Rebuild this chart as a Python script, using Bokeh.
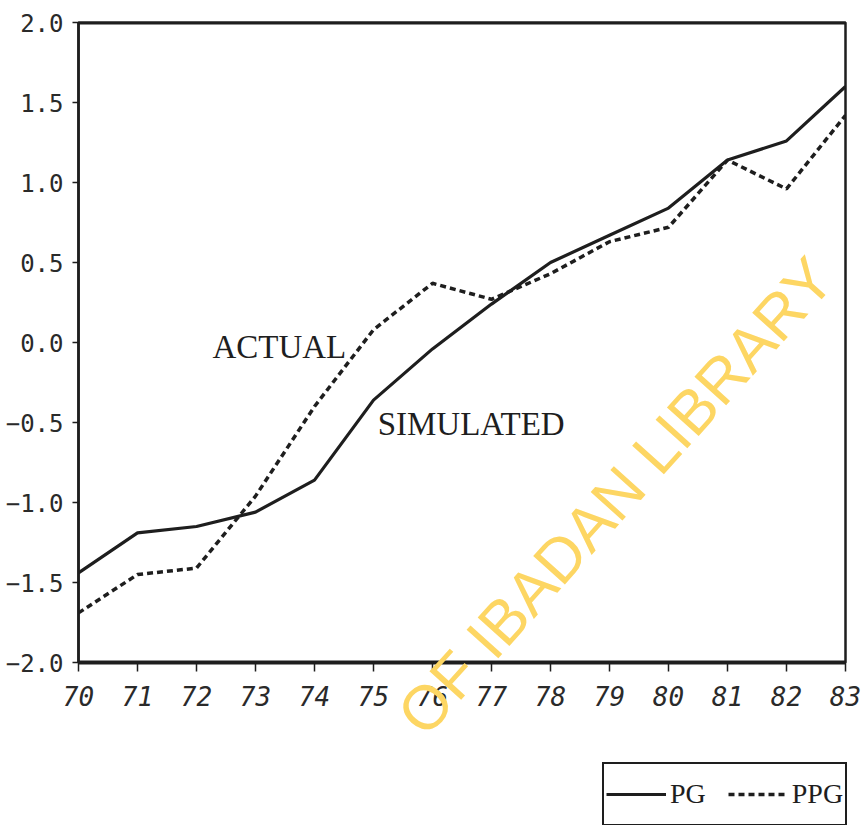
from bokeh.plotting import figure
from bokeh.layouts import column, row
from bokeh.models import Range1d, FixedTicker, Label, Legend, LegendItem, Span, Spacer
from bokeh.core.properties import value
from bokeh.embed import file_html
from bokeh.resources import INLINE

# Years (19xx) and the two money-supply series
years = [70, 71, 72, 73, 74, 75, 76, 77, 78, 79, 80, 81, 82, 83]
pg = [-1.44, -1.19, -1.15, -1.06, -0.86, -0.36, -0.04, 0.24, 0.50, 0.67, 0.84, 1.14, 1.26, 1.60]
ppg = [-1.69, -1.45, -1.41, -0.96, -0.40, 0.08, 0.37, 0.27, 0.43, 0.63, 0.72, 1.14, 0.96, 1.42]

x_ticks = years
x_tick_labels = [str(y) for y in years]
y_ticks = [-2.0, -1.5, -1.0, -0.5, 0.0, 0.5, 1.0, 1.5, 2.0]
y_tick_labels = ["\u22122.0", "\u22121.5", "\u22121.0", "\u22120.5", "0.0", "0.5", "1.0", "1.5", "2.0"]

INK = "#1e1e1e"
TICK_FONT = "DejaVu Sans Mono"
PG_STYLE = dict(line_color=INK, line_width=3.2)
PPG_STYLE = dict(line_color=INK, line_width=3.5, line_dash="6 4")

p = figure(
    width=862, height=760,
    x_range=Range1d(70, 83), y_range=Range1d(-2, 2),
    output_backend="svg", toolbar_location=None,
    min_border_left=78, min_border_right=17,
    min_border_top=22, min_border_bottom=98,
    background_fill_color="white", border_fill_color="white",
)

p.line(years, pg, **PG_STYLE)
p.line(years, ppg, **PPG_STYLE)

# axes
p.xgrid.visible = False
p.ygrid.visible = False
p.outline_line_color = INK
p.outline_line_width = 2.5

p.xaxis.ticker = FixedTicker(ticks=x_ticks)
p.xaxis.major_label_overrides = {t: l for t, l in zip(x_ticks, x_tick_labels)}
p.xaxis.axis_line_width = 4
p.xaxis.axis_line_color = INK
p.xaxis.major_tick_in = 0
p.xaxis.major_tick_out = 9
p.xaxis.major_tick_line_width = 1.5
p.xaxis.major_tick_line_color = INK
p.xaxis.minor_tick_line_color = None
p.xaxis.major_label_standoff = 14
p.xaxis.major_label_text_font = TICK_FONT
p.xaxis.major_label_text_font_style = "italic"
p.xaxis.major_label_text_font_size = "26px"
p.xaxis.major_label_text_color = "#2a2a2a"

p.yaxis.ticker = FixedTicker(ticks=y_ticks)
p.yaxis.major_label_overrides = {t: l for t, l in zip(y_ticks, y_tick_labels)}
p.yaxis.axis_line_width = 2.5
p.yaxis.axis_line_color = INK
p.yaxis.major_tick_in = 0
p.yaxis.major_tick_out = 6
p.yaxis.major_tick_line_width = 1.5
p.yaxis.major_tick_line_color = INK
p.yaxis.minor_tick_line_color = None
p.yaxis.major_label_standoff = 9
p.yaxis.major_label_text_font = TICK_FONT
p.yaxis.major_label_text_font_size = "24px"
p.yaxis.major_label_text_color = "#2a2a2a"

# heavier top rule of the frame
p.add_layout(Span(location=2.0, dimension="width", line_color=INK, line_width=4))

# series captions
p.add_layout(Label(x=72.27, y=-0.03, text="ACTUAL", text_font="Liberation Serif",
                   text_font_size="33px", text_color=INK, text_baseline="alphabetic"))
p.add_layout(Label(x=75.07, y=-0.51, text="SIMULATED", text_font="Liberation Serif",
                   text_font_size="33px", text_color=INK, text_baseline="alphabetic"))

# library stamp across the sheet, drawn on the overlay level so it spans the margins
stamp = p.text(x=[79.10], y=[-0.96], text=["OF IBADAN LIBRARY"], angle=48, angle_units="deg",
               text_align="center", text_baseline="middle",
               text_font=value("Liberation Sans"), text_font_size="62px",
               text_color="#fdd663")
stamp.level = "overlay"

# legend strip under the chart, right aligned; its sample renderers carry the
# same series but sit outside this small figure's ranges, so only the key shows
leg = figure(width=248, height=65, x_range=Range1d(0, 1), y_range=Range1d(0, 1),
             output_backend="svg", toolbar_location=None, min_border=0,
             background_fill_color="white", border_fill_color="white")
leg.axis.visible = False
leg.grid.visible = False
leg.outline_line_color = None
k_pg = leg.line(years, pg, **PG_STYLE)
k_ppg = leg.line(years, ppg, **PPG_STYLE)
leg.add_layout(Legend(
    items=[LegendItem(label="PG", renderers=[k_pg]), LegendItem(label="PPG", renderers=[k_ppg])],
    orientation="horizontal", location="top_left",
    padding=2, spacing=22, margin=2,
    glyph_width=60, glyph_height=56, label_height=56, label_standoff=4,
    label_text_font="Liberation Serif", label_text_font_size="28px",
    label_text_color=INK, label_text_baseline="middle",
    border_line_color=INK, border_line_width=2.5, border_line_alpha=1.0,
    background_fill_color="white", background_fill_alpha=1.0,
))

page = column(p, row(Spacer(width=600, height=65), leg))
open("out.html", "w").write(file_html(page, INLINE))
